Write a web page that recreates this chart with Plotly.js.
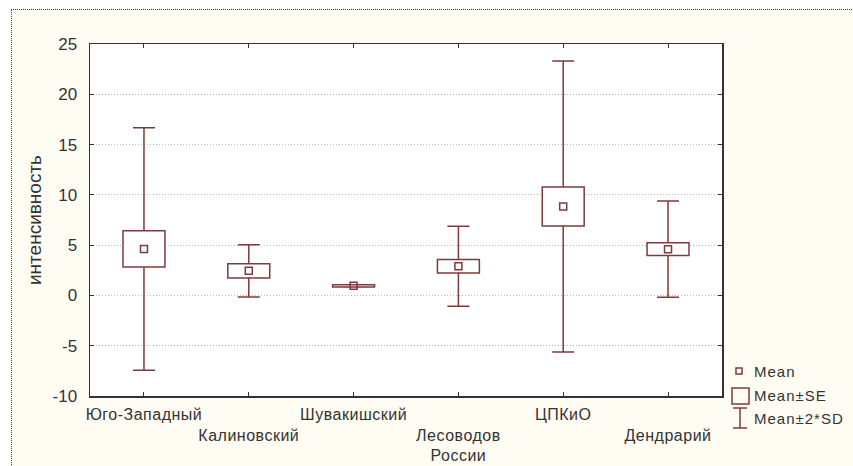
<!DOCTYPE html>
<html>
<head>
<meta charset="utf-8">
<script src="https://cdn.plot.ly/plotly-3.0.1.min.js"></script>
<style>
  html, body { margin: 0; padding: 0; background: #ffffff; }
  #wrap { position: absolute; left: 11px; top: 9px; width: 842px; height: 457px;
          border-left: 1px dotted #444; border-top: 1px dotted #444; background: #fffdf3; }
  #chart { width: 842px; height: 457px; }
  .xtick text { letter-spacing: 0.5px; }
  .annotation-text { letter-spacing: 1px; }
</style>
</head>
<body>
<div id="wrap"><div id="chart"></div></div>
<script>
// ---- data ----
const categories = ["Юго-Западный", "Калиновский", "Шувакишский", "Лесоводов России", "ЦПКиО", "Дендрарий"];
const tickLabels = ["Юго-Западный", "<br>Калиновский", "Шувакишский", "<br>Лесоводов<br>России", "ЦПКиО", "<br>Дендрарий"];
const meanVals = [4.62, 2.45, 0.95, 2.90, 8.84, 4.60];
const seVals   = [1.80, 0.71, 0.10, 0.67, 1.94, 0.63];
const sdVals   = [6.03, 1.30, 0.03, 1.99, 7.23, 2.39];
const yTickVals = [-10, -5, 0, 5, 10, 15, 20, 25];
const yTickText = ["-10", "-5", "0", "5", "10", "15", "20", "25"];
const legendLabels = ["Mean", "Mean±SE", "Mean±2*SD"];

// ---- styling ----
const lineCol = "#7d3b3b";
const positions = categories.map((c, i) => i);
const twoSD = sdVals.map(v => 2 * v);
const seBase = meanVals.map((m, i) => m - seVals[i]);
const seHeight = seVals.map(v => 2 * v);

const traces = [
  { // whiskers: Mean ± 2*SD
    type: "bar", x: positions, y: meanVals, base: 0, width: 0.4,
    marker: { color: "rgba(0,0,0,0)", line: { width: 0 } },
    error_y: { type: "data", array: twoSD, visible: true, color: lineCol, thickness: 1.5, width: 11 },
    hoverinfo: "skip", showlegend: false
  },
  { // boxes: Mean ± SE
    type: "bar", x: positions, y: seHeight, base: seBase, width: 0.4,
    marker: { color: "#ffffff", line: { color: lineCol, width: 1.5 } },
    showlegend: false, hoverinfo: "skip"
  },
  { // mean
    type: "scatter", mode: "markers", x: positions, y: meanVals,
    marker: { symbol: "square-open", size: 7, color: lineCol, line: { width: 1.5, color: lineCol } },
    showlegend: false, hoverinfo: "skip"
  }
];

// plot area in page pixels: x 89..721, y 43..395
const W0 = 89, W1 = 721, H0 = 43, H1 = 395;
const px = v => (v - W0) / (W1 - W0);
const py = v => (H1 - v) / (H1 - H0);

const shapes = [
  { type: "rect", xref: "paper", yref: "paper", x0: px(735), x1: px(741), y0: py(373), y1: py(367),
    line: { color: lineCol, width: 1.5 }, fillcolor: "rgba(0,0,0,0)" },
  { type: "rect", xref: "paper", yref: "paper", x0: px(731), x1: px(748), y0: py(403), y1: py(387),
    line: { color: lineCol, width: 1.5 }, fillcolor: "rgba(0,0,0,0)" },
  { type: "line", xref: "paper", yref: "paper", x0: px(739), x1: px(739), y0: py(427), y1: py(407),
    line: { color: lineCol, width: 1.5 } },
  { type: "line", xref: "paper", yref: "paper", x0: px(732), x1: px(746), y0: py(407), y1: py(407),
    line: { color: lineCol, width: 1.5 } },
  { type: "line", xref: "paper", yref: "paper", x0: px(732), x1: px(746), y0: py(427), y1: py(427),
    line: { color: lineCol, width: 1.5 } }
];
const legendY = [370, 394, 417];
const annotations = legendLabels.map((t, i) => ({
  text: t, xref: "paper", yref: "paper", x: px(751), y: py(legendY[i]),
  xanchor: "left", yanchor: "middle", showarrow: false,
  font: { family: "Liberation Sans, Arial, sans-serif", size: 15, color: "#333" }
}));

const font = { family: "Liberation Sans, Arial, sans-serif", size: 17, color: "#333" };
const layout = {
  width: 842, height: 457,
  margin: { l: 78, r: 132, t: 34, b: 71, pad: 0 },
  paper_bgcolor: "#fffdf3", plot_bgcolor: "#ffffff",
  font: font, showlegend: false, barmode: "overlay",
  xaxis: {
    range: [-0.515, 5.515], tickmode: "array", tickvals: positions, ticktext: tickLabels,
    tickangle: 0, automargin: false,
    showline: true, linecolor: "#333", linewidth: 1.5, mirror: "ticks",
    ticks: "inside", ticklen: 4, tickcolor: "#333", showgrid: false, zeroline: false,
    tickfont: { family: font.family, size: 16, color: "#333" }, ticklabelstandoff: 3
  },
  yaxis: {
    range: [-10, 25], tickmode: "array", tickvals: yTickVals, ticktext: yTickText,
    showline: true, linecolor: "#333", linewidth: 1.5, mirror: "ticks",
    ticks: "inside", ticklen: 4, tickcolor: "#333",
    showgrid: true, gridcolor: "#b8b8b8", griddash: "1px,2px", gridwidth: 1, zeroline: false,
    tickfont: font, ticklabelstandoff: 8, automargin: false,
    title: { text: "интенсивность", font: { family: font.family, size: 19, color: "#333" }, standoff: 6 }
  },
  shapes: shapes, annotations: annotations
};

Plotly.newPlot("chart", traces, layout, { staticPlot: true, displayModeBar: false });
</script>
</body>
</html>
